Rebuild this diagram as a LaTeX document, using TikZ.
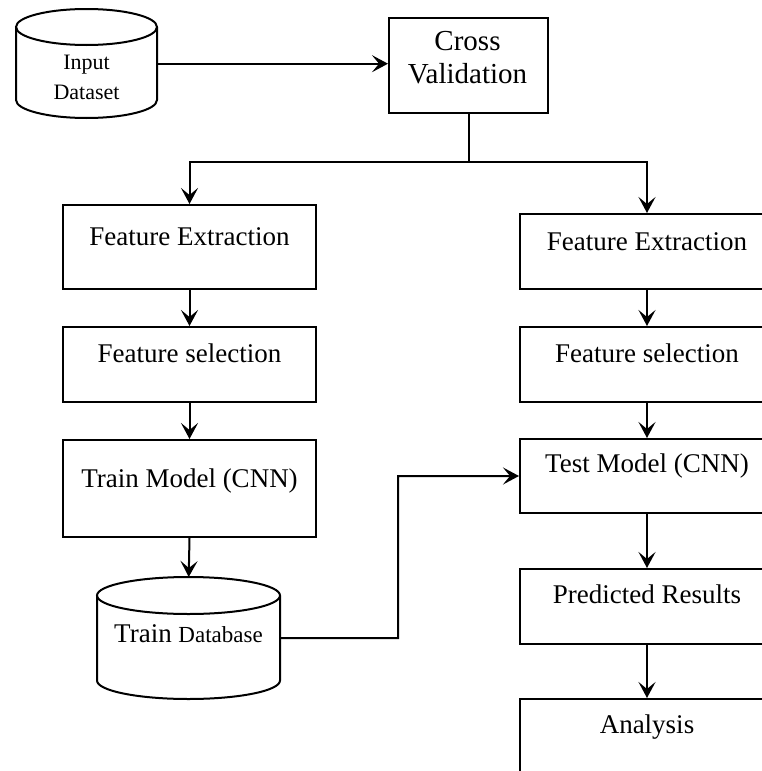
\documentclass[tikz,border=0pt]{standalone}
\usepackage{fontspec}
\setmainfont{Liberation Serif}
\usetikzlibrary{arrows.meta}
\begin{document}
\begin{tikzpicture}[x=1pt,y=1pt,
  lw/.style={line width=2pt},
  box/.style={draw,lw,inner sep=0pt,anchor=north west,fill=white},
  lbox/.style={box,minimum width=253pt},
  rbox/.style={box,minimum width=254pt},
  ghost/.style={inner sep=0pt,anchor=north west},
  txt/.style={inner sep=0pt,anchor=base,font=\fontsize{27}{32}\selectfont},
  cvtxt/.style={inner sep=0pt,anchor=base,font=\fontsize{29}{34}\selectfont},
  stxt/.style={inner sep=0pt,anchor=base,font=\fontsize{22}{26}\selectfont},
  arr/.style={lw,-{Stealth[length=16pt,width=17pt,inset=7pt]}},
  con/.style={lw}]
\useasboundingbox (0,0) rectangle (762,-771);
\clip (0,0) rectangle (762,-771);

% Input Dataset cylinder
\node[ghost,minimum width=141pt,minimum height=109pt] (inp) at (16,-9) {};
\draw[lw,fill=white] (16,-27) -- (16,-100) arc[start angle=180,end angle=360,x radius=70.5,y radius=18] -- (157,-27);
\draw[lw] (86.5,-27) ellipse[x radius=70.5,y radius=18];
\node[stxt] (tinp1) at (86.5,-69) {Input};
\node[stxt] (tinp2) at (86.5,-99) {Dataset};

% Cross Validation
\node[box,minimum width=159pt,minimum height=95pt] (cv) at (388,-17) {};
\node[cvtxt] (tcv1) at (467.5,-50) {Cross};
\node[cvtxt] (tcv2) at (467.5,-83) {Validation};

% Left column
\node[lbox,minimum height=84pt] (lfe) at (62,-204) {};
\node[txt] (tlfe) at (lfe.center |- 0,-245) {Feature Extraction};
\node[lbox,minimum height=75pt] (lfs) at (62,-326) {};
\node[txt] (tlfs) at (lfs.center |- 0,-362) {Feature selection};
\node[lbox,minimum height=97pt] (ltm) at (62,-439) {};
\node[txt] (tltm) at (ltm.center |- 0,-487) {Train Model (CNN)};

% Train Database cylinder
\node[ghost,minimum width=183pt,minimum height=122pt] (tdb) at (97,-577) {};
\draw[lw,fill=white] (97,-595.5) -- (97,-680.5) arc[start angle=180,end angle=360,x radius=91.5,y radius=18.5] -- (280,-595.5);
\draw[lw] (188.5,-595.5) ellipse[x radius=91.5,y radius=18.5];
\node[inner sep=0pt,anchor=base] (ttdb) at (188.5,-642) {\fontsize{27}{32}\selectfont Train \fontsize{23}{27}\selectfont Database};

% Right column
\node[rbox,minimum height=75pt] (rfe) at (519,-213) {};
\node[txt] (trfe) at (rfe.center |- 0,-250) {Feature Extraction};
\node[rbox,minimum height=75pt] (rfs) at (519,-326) {};
\node[txt] (trfs) at (rfs.center |- 0,-362) {Feature selection};
\node[rbox,minimum height=74pt] (rtm) at (519,-438) {};
\node[txt] (trtm) at (rtm.center |- 0,-472) {Test Model (CNN)};
\node[rbox,minimum height=75pt] (rpr) at (519,-568) {};
\node[txt] (trpr) at (rpr.center |- 0,-603) {Predicted Results};
\node[rbox,minimum height=100pt] (ran) at (519,-698) {};
\node[txt] (tran) at (ran.center |- 0,-733) {Analysis};

% Connectors
\draw[arr] (inp.east) -- (inp.east -| cv.west);
\coordinate (sp) at (cv.south |- 0,-162);
\draw[con] (cv.south) -- (sp);
\draw[arr] (sp) -| (lfe.north);
\draw[arr] (sp) -| (rfe.north);
\draw[arr] (lfe.south) -- (lfs.north);
\draw[arr] (lfs.south) -- (ltm.north);
\draw[arr] (ltm.south) -- (tdb.north);
\coordinate (bend) at (398,-638);
\draw[arr] (tdb.east) -- (bend) |- (rtm.west);
\draw[arr] (rfe.south) -- (rfs.north);
\draw[arr] (rfs.south) -- (rtm.north);
\draw[arr] (rtm.south) -- (rpr.north);
\draw[arr] (rpr.south) -- (ran.north);
\end{tikzpicture}
\end{document}
